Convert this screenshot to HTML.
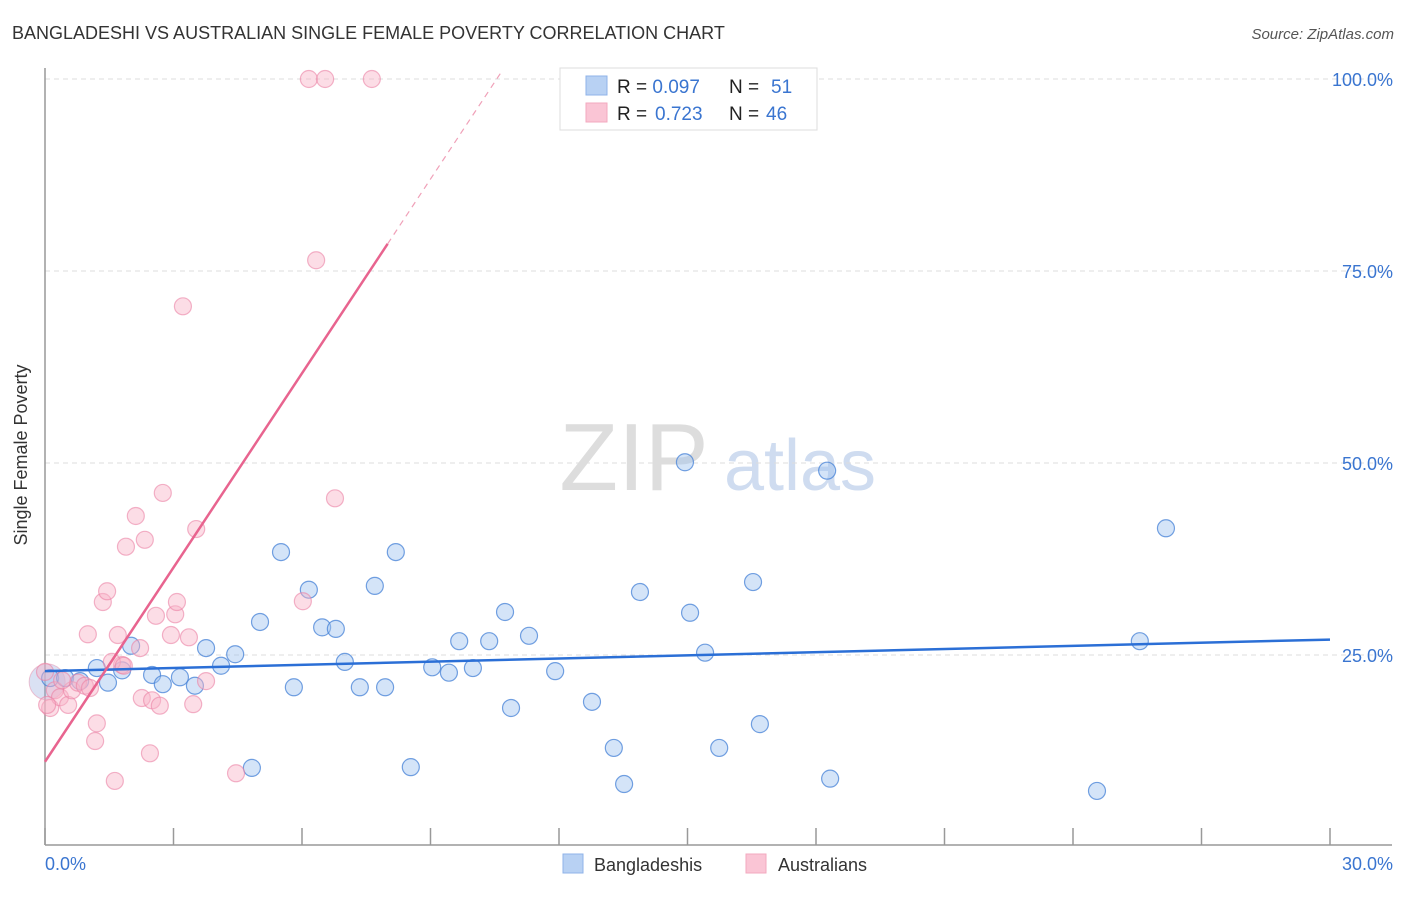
<!DOCTYPE html>
<html><head><meta charset="utf-8"><style>
body{margin:0;background:#fff;font-family:"Liberation Sans",sans-serif;}
svg text{font-family:"Liberation Sans",sans-serif;}
</style></head><body>
<svg id="chart" width="1406" height="892">
<text x="12" y="39" font-size="18" fill="#333">BANGLADESHI VS AUSTRALIAN SINGLE FEMALE POVERTY CORRELATION CHART</text>
<text x="1394" y="39" font-size="15" fill="#555" font-style="italic" text-anchor="end">Source: ZipAtlas.com</text>
<g>
<text x="634" y="490" font-size="96" fill="#ddd" font-family="Liberation Serif" text-anchor="middle">ZIP</text>
<text x="800" y="490" font-size="72" fill="#cfdcf0" text-anchor="middle">atlas</text>
</g>
<g id="grid"></g>
<line x1="45" y1="68" x2="45" y2="845" stroke="#999" stroke-width="1.5"/>
<line x1="45" y1="845" x2="1392" y2="845" stroke="#999" stroke-width="1.5"/>
<g id="xticks"></g>
<text x="27" y="455" font-size="18" fill="#333" text-anchor="middle" transform="rotate(-90 27 455)">Single Female Poverty</text>
<text x="45" y="870" font-size="18" fill="#3a75d0">0.0%</text>
<text x="1393" y="870" font-size="18" fill="#3a75d0" text-anchor="end">30.0%</text>
<g id="points"></g>
<g id="lines"></g>
<g>
<rect x="560" y="68" width="257" height="62" fill="#fff" stroke="#ddd"/>
<rect x="586" y="76" width="21" height="19" fill="#b8d1f3" stroke="#8fb3e8"/>
<rect x="586" y="103" width="21" height="19" fill="#fac5d5" stroke="#f3a9bf"/>
<text x="617" y="93" font-size="19" fill="#222">R = <tspan fill="#3a75d0">0.097</tspan><tspan x="729">N = </tspan><tspan x="771" fill="#3a75d0">51</tspan></text>
<text x="617" y="120" font-size="19" fill="#222">R = <tspan x="655" fill="#3a75d0">0.723</tspan><tspan x="729">N = </tspan><tspan x="766" fill="#3a75d0">46</tspan></text>
</g>
<g>
<rect x="563" y="854" width="20" height="19" fill="#b8d1f3" stroke="#8fb3e8"/>
<text x="594" y="871" font-size="18" fill="#333">Bangladeshis</text>
<rect x="746" y="854" width="20" height="19" fill="#fac5d5" stroke="#f3a9bf"/>
<text x="778" y="871" font-size="18" fill="#333">Australians</text>
</g>
</svg>
<script>
const yTicks=[25,50,75,100];
const yTickLabels=["25.0%","50.0%","75.0%","100.0%"];
const xTicks=[0,3,6,9,12,15,18,21,24,27,30];
const blueX=[0.12,0.47,1.21,1.47,1.80,2.01,2.50,2.75,3.15,3.50,3.76,4.11,4.44,4.83,5.02,5.51,5.81,6.16,6.47,6.79,7.00,7.35,7.70,7.94,8.19,8.54,9.04,9.43,9.67,9.99,10.37,10.74,10.88,11.30,11.91,12.77,13.28,13.52,13.89,14.94,15.06,15.41,15.74,16.53,16.69,18.26,18.33,24.56,25.56,26.17,0.82];
const blueY=[22.0,22.0,23.3,21.4,23.0,26.2,22.4,21.2,22.1,21.0,25.9,23.6,25.1,10.3,29.3,38.4,20.8,33.5,28.6,28.4,24.1,20.8,34.0,20.8,38.4,10.4,23.4,22.7,26.8,23.3,26.8,30.6,18.1,27.5,22.9,18.9,12.9,8.2,33.2,50.1,30.5,25.3,12.9,34.5,16.0,49.0,8.9,7.3,26.8,41.5,21.6];
const pinkX=[0.12,0.23,0.35,0.54,0.63,0.77,0.93,1.05,1.00,1.21,1.17,1.35,1.45,1.63,1.70,1.89,1.80,2.12,2.22,2.33,2.45,2.59,2.26,2.50,2.68,2.75,2.94,3.04,3.08,3.22,3.36,3.46,3.53,3.76,4.46,6.02,6.16,6.33,6.54,6.77,7.63,1.56,1.84,0.40,0.0,0.05];
const pinkY=[18.1,20.4,19.5,18.5,20.4,21.4,21.0,20.7,27.7,16.1,13.8,31.9,33.3,8.6,27.6,39.1,23.7,43.1,25.9,40.0,12.2,30.1,19.4,19.1,18.4,46.1,27.6,30.3,31.9,70.4,27.3,18.6,41.4,21.6,9.6,32.0,100,76.4,100,45.4,100,24.1,23.6,21.7,22.8,18.5];
const blueFit=[22.9,0.137];
const pinkFit=[11.1,8.43];
const X=v=>45+v*(1285/30);
const Y=v=>847-v*7.68;
const NS="http://www.w3.org/2000/svg";
function mk(t,a,p){const e=document.createElementNS(NS,t);for(const k in a)e.setAttribute(k,a[k]);p.appendChild(e);return e;}
const grid=document.getElementById('grid');
yTicks.forEach((t,i)=>{
 const l=mk('line',{x1:45,x2:1392,y1:Y(t),y2:Y(t),stroke:'#ddd','stroke-dasharray':'5,4'},grid);
 
 
 const tx=mk('text',{x:1393,y:Y(t)+7,'font-size':18,fill:'#3a75d0','text-anchor':'end'},grid);
 tx.textContent=yTickLabels[i];
 
 
});
const xt=document.getElementById('xticks');
xTicks.forEach(t=>{
 const l=mk('line',{x1:X(t),x2:X(t),y1:828,y2:845,stroke:'#999','stroke-width':1.5},xt);
 
 
});
const pts=document.getElementById('points');
const big1=mk('circle',{cx:X(0.05),cy:Y(21.5),r:18,fill:'rgba(150,170,220,0.35)',stroke:'rgba(230,140,170,0.5)'},pts);


blueX.forEach((x,i)=>{
 const c=mk('circle',{cx:X(x),cy:Y(blueY[i]),r:8.5,fill:'rgba(160,195,240,0.45)',stroke:'rgba(70,130,215,0.75)','stroke-width':1.2},pts);
 
 
});
pinkX.forEach((x,i)=>{
 const c=mk('circle',{cx:X(x),cy:Y(pinkY[i]),r:8.5,fill:'rgba(248,180,200,0.45)',stroke:'rgba(235,130,165,0.6)','stroke-width':1.2},pts);
 
 
});
const ln=document.getElementById('lines');
const bl=mk('line',{x1:X(0),y1:Y(blueFit[0]),x2:X(30),y2:Y(blueFit[0]+blueFit[1]*30),stroke:'#2b6fd6','stroke-width':2.5},ln);


const xs=8.0,xe=(100-pinkFit[0])/pinkFit[1]+0.1;
const pl=mk('line',{x1:X(0),y1:Y(pinkFit[0]),x2:X(xs),y2:Y(pinkFit[0]+pinkFit[1]*xs),stroke:'#e8648f','stroke-width':2.5},ln);


const pd=mk('line',{x1:X(xs),y1:Y(pinkFit[0]+pinkFit[1]*xs),x2:X(xe),y2:Y(pinkFit[0]+pinkFit[1]*xe),stroke:'#f0a0b8','stroke-width':1.2,'stroke-dasharray':'6,5'},ln);


</script>
</body></html>
